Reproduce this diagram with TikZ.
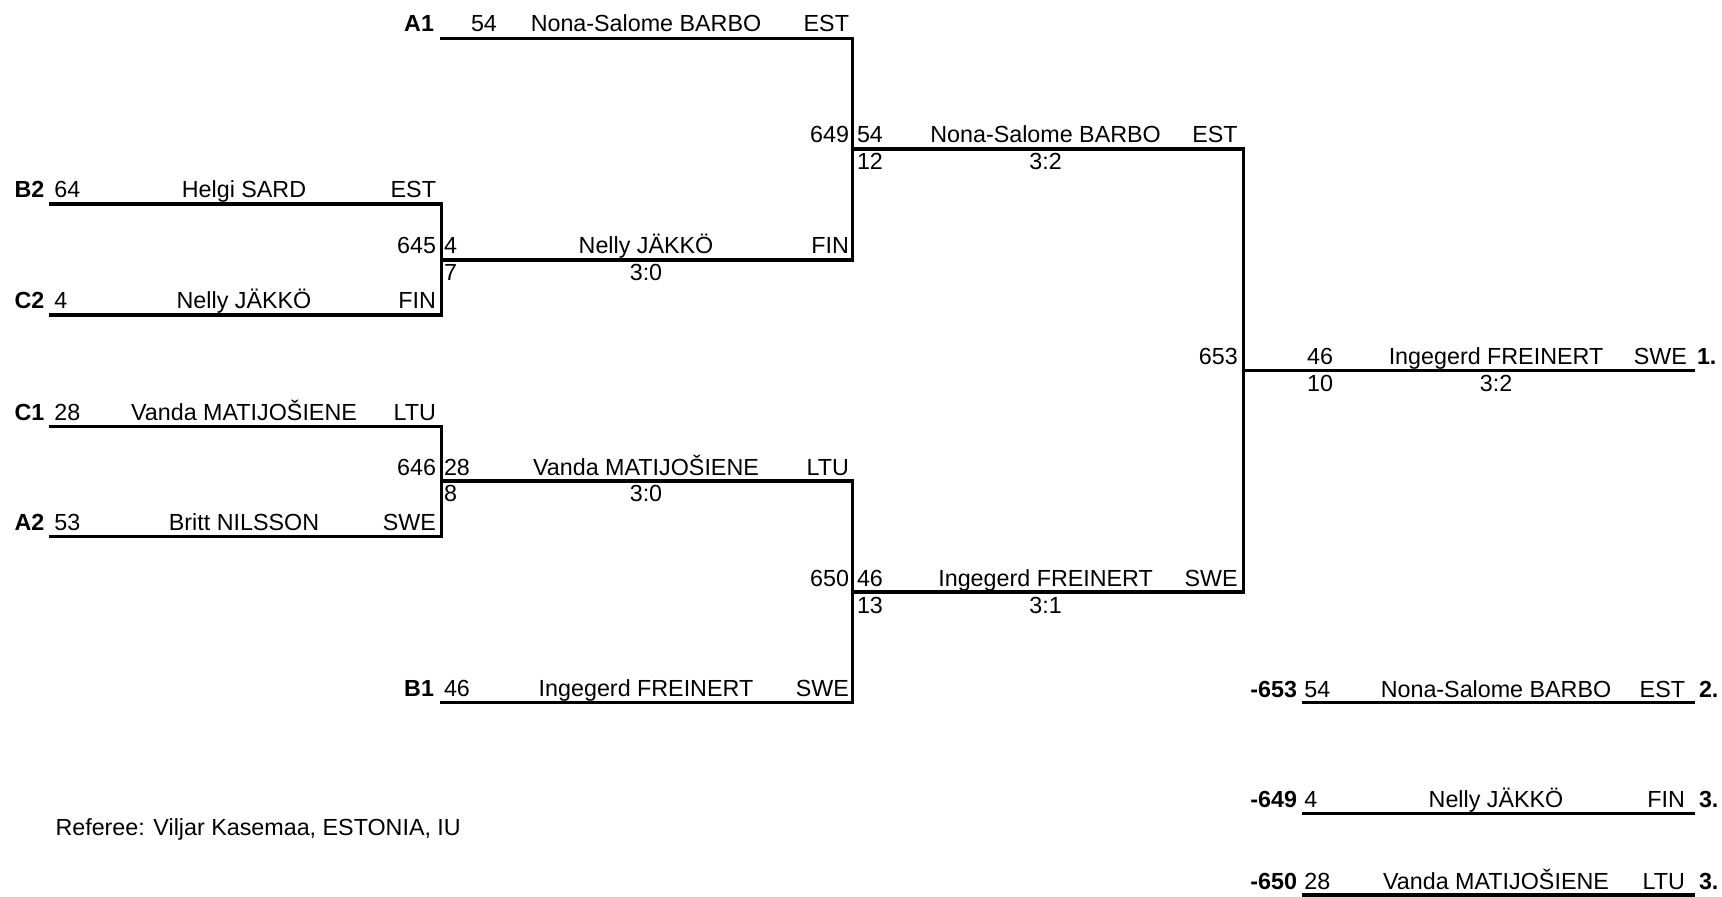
\documentclass[tikz,border=0pt]{standalone}
\usepackage{fontspec}
\setmainfont{Liberation Sans}
\begin{document}
\begin{tikzpicture}[x=0.5pt,y=-0.5pt,
  ln/.style={line width=1.6pt, line cap=rect, line join=miter},
  t/.style={font=\fontsize{11.65}{13}\selectfont, inner sep=0pt, outer sep=0pt},
  tb/.style={font=\fontsize{11.65}{13}\selectfont\bfseries, inner sep=0pt, outer sep=0pt},
  L/.style={anchor=base west},
  R/.style={anchor=base east},
  C/.style={anchor=base}]
\useasboundingbox (0,0) rectangle (1722,897);
% column x positions
\def\xa{51}\def\xb{441.7}\def\xc{852.8}\def\xd{1243.7}\def\xe{1693.3}\def\xp{1303.3}
% line endpoints
\coordinate (a1s) at (\xb,38.3);   \coordinate (a1e) at (\xc,38.3);
\coordinate (m649s) at (\xc,149);  \coordinate (m649e) at (\xd,149);
\coordinate (b2s) at (\xa,204);    \coordinate (b2e) at (\xb,204);
\coordinate (m645s) at (\xb,260);  \coordinate (m645e) at (\xc,260);
\coordinate (c2s) at (\xa,315);    \coordinate (c2e) at (\xb,315);
\coordinate (f653s) at (\xd,370.7);\coordinate (f653e) at (\xe,370.7);
\coordinate (c1s) at (\xa,426.5);  \coordinate (c1e) at (\xb,426.5);
\coordinate (m646s) at (\xb,481);  \coordinate (m646e) at (\xc,481);
\coordinate (a2s) at (\xa,536.8);  \coordinate (a2e) at (\xb,536.8);
\coordinate (m650s) at (\xc,592);  \coordinate (m650e) at (\xd,592);
\coordinate (b1s) at (\xb,702.8);  \coordinate (b1e) at (\xc,702.8);
\coordinate (p2s) at (\xp,702.8);  \coordinate (p2e) at (\xe,702.8);
\coordinate (p3as) at (\xp,813.5); \coordinate (p3ae) at (\xe,813.5);
\coordinate (p3bs) at (\xp,895);   \coordinate (p3be) at (\xe,895);
% bracket lines
\draw[ln] (b2s) -- (b2e) -- (c2e) -- (c2s);
\draw[ln] (c1s) -- (c1e) -- (a2e) -- (a2s);
\draw[ln] (m645s) -- (m645e);
\draw[ln] (m646s) -- (m646e);
\draw[ln] (a1s) -- (a1e) -- (m645e);
\draw[ln] (m646e) -- (b1e) -- (b1s);
\draw[ln] (m649s) -- (m649e) -- (m650e) -- (m650s);
\draw[ln] (m649s) -- (a1e);
\draw[ln] (m650s) -- (m646e);
\draw[ln] (f653s) -- (f653e);
\draw[ln] (p2s) -- (p2e);
\draw[ln] (p3as) -- (p3ae);
\draw[ln] (p3bs) -- (p3be);
% A1
\node[tb,R] (A1l) at (434,32) {A1};
\node[t,L] (A1n) at (471,32) {54};
\node[t,C] (A1p) at (646,32) {Nona-Salome BARBO};
\node[t,R] (A1c) at (849,32) {EST};
% B2
\node[tb,R] (B2l) at (44.4,198) {B2};
\node[t,L] (B2n) at (54.4,198) {64};
\node[t,C] (B2p) at (244,198) {Helgi SARD};
\node[t,R] (B2c) at (436,198) {EST};
% C2
\node[tb,R] (C2l) at (44.4,309) {C2};
\node[t,L] (C2n) at (54.4,309) {4};
\node[t,C] (C2p) at (244,309) {Nelly JÄKKÖ};
\node[t,R] (C2c) at (436,309) {FIN};
% C1
\node[tb,R] (C1l) at (44.4,420.5) {C1};
\node[t,L] (C1n) at (54.4,420.5) {28};
\node[t,C] (C1p) at (244,420.5) {Vanda MATIJOŠIENE};
\node[t,R] (C1c) at (436,420.5) {LTU};
% A2
\node[tb,R] (A2l) at (44.4,530.8) {A2};
\node[t,L] (A2n) at (54.4,530.8) {53};
\node[t,C] (A2p) at (244,530.8) {Britt NILSSON};
\node[t,R] (A2c) at (436,530.8) {SWE};
% B1
\node[tb,R] (B1l) at (434,696.8) {B1};
\node[t,L] (B1n) at (444,696.8) {46};
\node[t,C] (B1p) at (646,696.8) {Ingegerd FREINERT};
\node[t,R] (B1c) at (849,696.8) {SWE};
% match 645
\node[t,R] (g645) at (436,254) {645};
\node[t,L] (g645n) at (444,254) {4};
\node[t,C] (g645p) at (646,254) {Nelly JÄKKÖ};
\node[t,R] (g645c) at (849,254) {FIN};
\node[t,L] (g645t) at (444,281) {7};
\node[t,C] (g645r) at (646,281) {3:0};
% match 646
\node[t,R] (g646) at (436,475) {646};
\node[t,L] (g646n) at (444,475) {28};
\node[t,C] (g646p) at (646,475) {Vanda MATIJOŠIENE};
\node[t,R] (g646c) at (849,475) {LTU};
\node[t,L] (g646t) at (444,502) {8};
\node[t,C] (g646r) at (646,502) {3:0};
% match 649
\node[t,R] (g649) at (849,143) {649};
\node[t,L] (g649n) at (857,143) {54};
\node[t,C] (g649p) at (1045.6,143) {Nona-Salome BARBO};
\node[t,R] (g649c) at (1237.7,143) {EST};
\node[t,L] (g649t) at (857,170) {12};
\node[t,C] (g649r) at (1045.6,170) {3:2};
% match 650
\node[t,R] (g650) at (849,586) {650};
\node[t,L] (g650n) at (857,586) {46};
\node[t,C] (g650p) at (1045.6,586) {Ingegerd FREINERT};
\node[t,R] (g650c) at (1237.7,586) {SWE};
\node[t,L] (g650t) at (857,613) {13};
\node[t,C] (g650r) at (1045.6,613) {3:1};
% final 653
\node[t,R] (g653) at (1237.7,364.7) {653};
\node[t,C] (g653n) at (1320,364.7) {46};
\node[t,C] (g653p) at (1496,364.7) {Ingegerd FREINERT};
\node[t,R] (g653c) at (1687,364.7) {SWE};
\node[tb,L] (g653pl) at (1697,364.7) {1.};
\node[t,C] (g653t) at (1320,391.7) {10};
\node[t,C] (g653r) at (1496,391.7) {3:2};
% placings
\node[tb,R] (P2l) at (1297,697) {-653};
\node[t,L] (P2n) at (1304.3,697) {54};
\node[t,C] (P2p) at (1496,697) {Nona-Salome BARBO};
\node[t,R] (P2c) at (1685,697) {EST};
\node[tb,L] (P2pl) at (1699,697) {2.};
\node[tb,R] (P3al) at (1297,807.5) {-649};
\node[t,L] (P3an) at (1304.3,807.5) {4};
\node[t,C] (P3ap) at (1496,807.5) {Nelly JÄKKÖ};
\node[t,R] (P3ac) at (1685,807.5) {FIN};
\node[tb,L] (P3apl) at (1699,807.5) {3.};
\node[tb,R] (P3bl) at (1297,889) {-650};
\node[t,L] (P3bn) at (1304.3,889) {28};
\node[t,C] (P3bp) at (1496,889) {Vanda MATIJOŠIENE};
\node[t,R] (P3bc) at (1685,889) {LTU};
\node[tb,L] (P3bpl) at (1699,889) {3.};
% referee
\node[t,L] (ref) at (55.5,835) {Referee: Viljar Kasemaa, ESTONIA, IU};
\end{tikzpicture}
\end{document}
